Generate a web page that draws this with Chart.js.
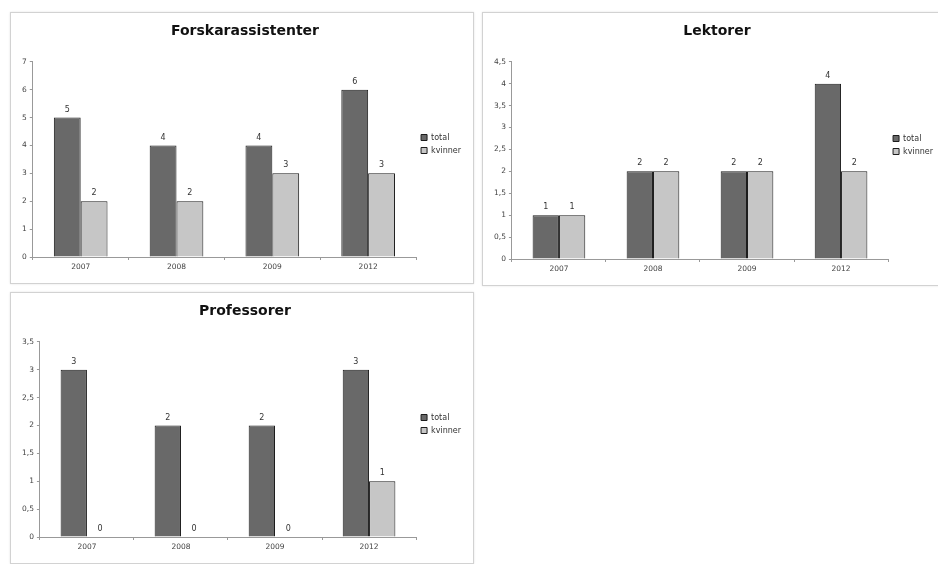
<!DOCTYPE html>
<html>
<head>
<meta charset="utf-8">
<script src="https://cdn.jsdelivr.net/npm/chart.js@4.4.1/dist/chart.umd.min.js"></script>
<style>
  body { margin: 0; background: #fff; width: 938px; height: 564px; overflow: hidden; position: relative; }
  .panel { position: absolute; border: 1px solid #d2d2d2; background: #fff; box-shadow: 0 0 2px #e4e4e4; }
</style>
</head>
<body>
<div class="panel" style="left:10px;top:12px;width:462px;height:270px"><canvas id="c1"></canvas></div>
<div class="panel" style="left:482px;top:12px;width:462px;height:272px"><canvas id="c2"></canvas></div>
<div class="panel" style="left:10px;top:292px;width:462px;height:270px"><canvas id="c3"></canvas></div>
<script>
// data
const years = ['2007', '2008', '2009', '2012'];
const seriesNames = ['total', 'kvinner'];

const forskTotal = [5, 4, 4, 6];
const forskKvinner = [2, 2, 3, 3];

const lektTotal = [1, 2, 2, 4];
const lektKvinner = [1, 2, 2, 2];

const profTotal = [3, 2, 2, 3];
const profKvinner = [0, 0, 0, 1];

// y axis ranges
const forskMax = 7, forskStep = 1;
const lektMax = 4.5, lektStep = 0.5;
const profMax = 3.5, profStep = 0.5;

const FONT = '"DejaVu Sans", Verdana, sans-serif';

// numbers over each bar
const valueLabels = {
    id: 'valueLabels',
    afterDatasetsDraw(chart) {
        const ctx = chart.ctx;
        ctx.save();
        ctx.font = '8px ' + FONT;
        ctx.fillStyle = '#333';
        ctx.textAlign = 'center';
        ctx.textBaseline = 'bottom';
        chart.data.datasets.forEach((ds, i) => {
            chart.getDatasetMeta(i).data.forEach((bar, j) => {
                ctx.fillText(ds.data[j], bar.x, bar.y - 4);
            });
        });
        ctx.restore();
    }
};

function makeChart(id, title, total, kvinner, max, step) {
    new Chart(document.getElementById(id), {
        type: 'bar',
        data: {
            labels: years,
            datasets: [{
                label: seriesNames[0],
                data: total,
                backgroundColor: '#696969',
                borderColor: '#1c1c1c',
                borderWidth: 1
            }, {
                label: seriesNames[1],
                data: kvinner,
                backgroundColor: '#c6c6c6',
                borderColor: '#1c1c1c',
                borderWidth: 1
            }]
        },
        options: {
            responsive: true,
            maintainAspectRatio: false,
            animation: false,
            categoryPercentage: 0.56,
            barPercentage: 1,
            layout: { padding: { left: 8, right: 2, bottom: 8 } },
            plugins: {
                title: {
                    display: true,
                    text: title,
                    color: '#111',
                    font: { family: FONT, size: 14, weight: 'bold' },
                    padding: { top: 10, bottom: 22 }
                },
                legend: {
                    position: 'right',
                    labels: {
                        boxWidth: 6,
                        boxHeight: 6,
                        padding: 5,
                        color: '#333',
                        font: { family: FONT, size: 8 }
                    }
                },
                tooltip: { enabled: false }
            },
            scales: {
                x: {
                    grid: { drawOnChartArea: false, tickLength: 3, color: '#999' },
                    border: { color: '#999' },
                    ticks: { color: '#444', font: { family: FONT, size: 7.5 } }
                },
                y: {
                    min: 0,
                    max: max,
                    grid: { drawOnChartArea: false, tickLength: 3, color: '#999' },
                    border: { color: '#999' },
                    ticks: {
                        stepSize: step,
                        color: '#444',
                        font: { family: FONT, size: 7.5 },
                        callback: v => String(v).replace('.', ',')
                    }
                }
            }
        },
        plugins: [valueLabels]
    });
}

makeChart('c1', 'Forskarassistenter', forskTotal, forskKvinner, forskMax, forskStep);
makeChart('c2', 'Lektorer', lektTotal, lektKvinner, lektMax, lektStep);
makeChart('c3', 'Professorer', profTotal, profKvinner, profMax, profStep);
</script>
</body>
</html>
